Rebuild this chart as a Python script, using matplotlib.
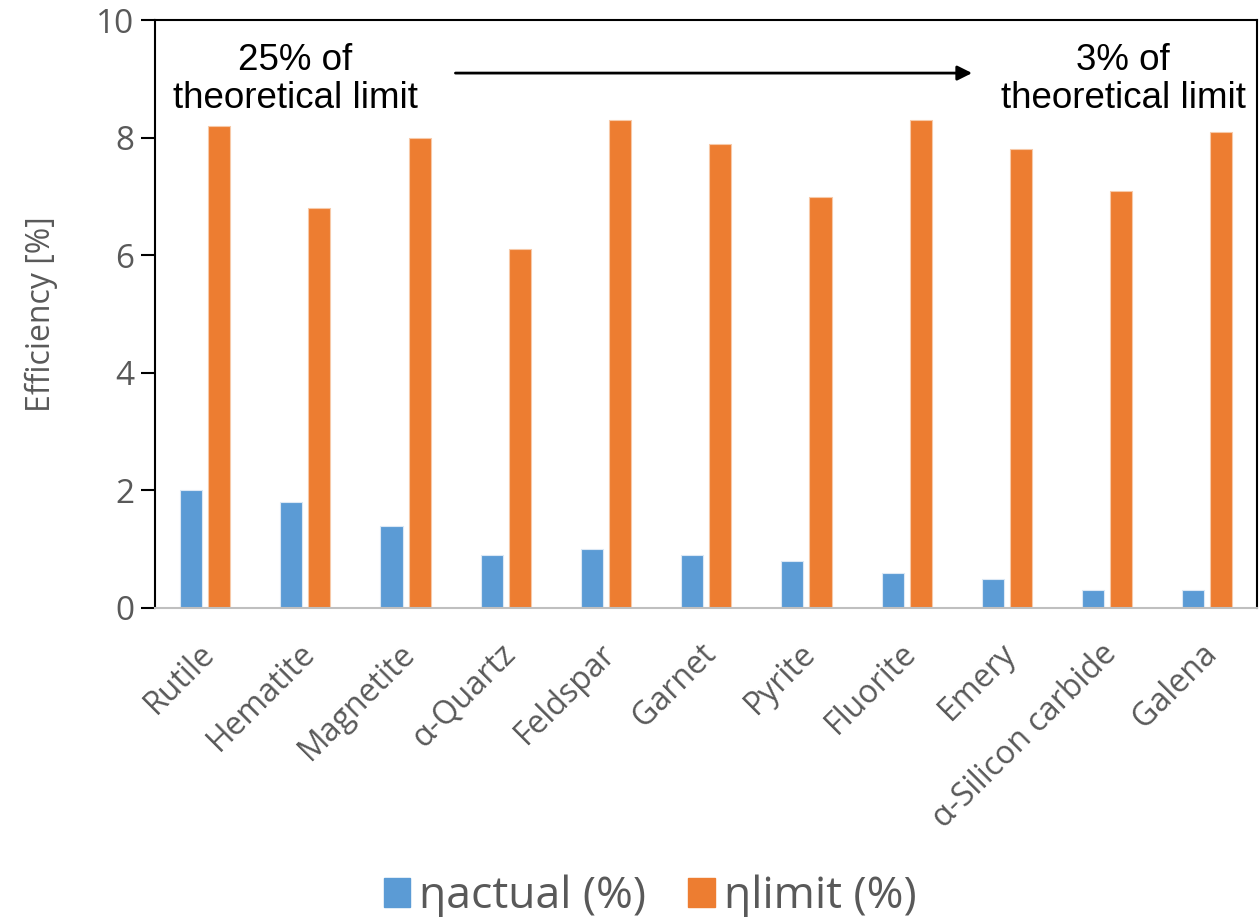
import numpy as np
import matplotlib.pyplot as plt
import matplotlib.transforms as mtransforms
from matplotlib.patches import Patch

minerals = ["Rutile", "Hematite", "Magnetite", "α-Quartz", "Feldspar", "Garnet",
            "Pyrite", "Fluorite", "Emery", "α-Silicon carbide", "Galena"]
eta_actual = [2.0, 1.8, 1.4, 0.9, 1.0, 0.9, 0.8, 0.6, 0.5, 0.3, 0.3]
eta_limit = [8.2, 6.8, 8.0, 6.1, 8.3, 7.9, 7.0, 8.3, 7.8, 7.1, 8.1]

blue = "#5B9BD5"
orange = "#ED7D31"
grey = "#595959"

fig = plt.figure(figsize=(12.6, 9.17), dpi=100)
ax = fig.add_axes([0.123, 0.337, 0.875, 0.641])

x = np.arange(len(minerals))
w = 0.22
ax.bar(x - 0.14, eta_actual, w, color=blue, edgecolor="#dbe8f5", linewidth=0.8)
ax.bar(x + 0.14, eta_limit, w, color=orange, edgecolor="#f7c9a8", linewidth=0.8)

ax.set_xlim(-0.5, len(minerals) - 0.5)
ax.set_ylim(0, 10)
ax.set_yticks([0, 2, 4, 6, 8, 10])
ax.tick_params(axis="y", labelsize=24, labelcolor=grey, length=10, width=1.5,
               direction="out", pad=5)
ax.tick_params(axis="x", length=0, labelsize=23, labelcolor=grey, pad=21)
ax.set_xticks(x)
ax.set_xticklabels(minerals, rotation=45, ha="right", rotation_mode="anchor",
                   fontfamily="Open Sans")
shift = mtransforms.ScaledTranslation(-7 / 100, 0, fig.dpi_scale_trans)
for lab in ax.get_xticklabels():
    lab.set_transform(lab.get_transform() + shift)
for lab in ax.get_yticklabels():
    lab.set_fontfamily("Open Sans")
ax.set_ylabel("Efficiency [%]", fontsize=23, color=grey, fontfamily="Open Sans", labelpad=27)

for s in ["left", "top", "right"]:
    ax.spines[s].set_color("black")
    ax.spines[s].set_linewidth(1.5)
ax.spines["bottom"].set_color("#bfbfbf")
ax.spines["bottom"].set_linewidth(1.5)

ax.text(0.9, 8.99, "25% of\ntheoretical limit", ha="center", va="center",
        fontsize=26.5, fontfamily="Liberation Sans", linespacing=1.12)
ax.text(9.16, 8.99, "3% of\ntheoretical limit", ha="center", va="center",
        fontsize=26.5, fontfamily="Liberation Sans", linespacing=1.12)
ax.annotate("", xy=(7.68, 9.1), xytext=(2.47, 9.1),
            arrowprops=dict(arrowstyle="-|>", color="black", lw=2, mutation_scale=22))

handles = [Patch(color=blue, label="ηactual (%)"), Patch(color=orange, label="ηlimit (%)")]
leg = fig.legend(handles=handles, loc="lower center", bbox_to_anchor=(0.516, -0.046), ncol=2,
                 frameon=False, handlelength=0.6, handleheight=0.6,
                 columnspacing=0.95, handletextpad=0.2, prop={"family": "Open Sans", "size": 32})
for t in leg.get_texts():
    t.set_color(grey)

fig.savefig("out.png", dpi=100)
